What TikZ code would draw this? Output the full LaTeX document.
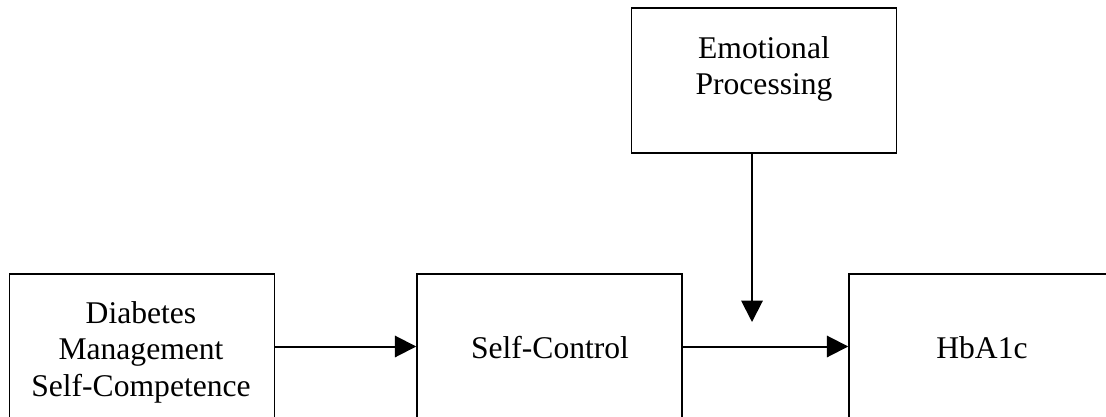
\documentclass[tikz,border=0pt]{standalone}
\usepackage{fontspec}
\setmainfont{Liberation Serif}
\usetikzlibrary{arrows.meta}

\begin{document}
\begin{tikzpicture}[x=0.75pt,y=-0.75pt,
    varbox/.style={draw, line width=1.1pt, minimum width=198.75pt, minimum height=108.75pt, inner sep=0pt},
    varlbl/.style={align=center, font=\fontsize{23.7pt}{27.4pt}\selectfont, inner sep=0pt},
    effect/.style={line width=1.5pt, -{Triangle[length=16pt,width=16pt]}}]
  \useasboundingbox (0,0) rectangle (1106,417);

  % boxes
  \node[varbox] (dmsc) at (141.75,346.5) {};
  \node[varbox] (sc) at (549.5,346.5) {};
  \node[varbox] (hba) at (981.5,346.5) {};
  \node[varbox] (ep) at (764,80.5) {};

  % labels
  \node[varlbl] (dmscT) at (141,352) {Diabetes\\Management\\Self-Competence};
  \node[varlbl] (scT) at (550,348) {Self-Control};
  \node[varlbl] (hbaT) at (982,348) {HbA1c};
  \node[varlbl] (epT) at (764,69) {Emotional\\Processing};

  % paths
  \coordinate (mod) at (752,322);
  \draw[effect] (dmsc.east) -- (sc.west);
  \draw[effect] (sc.east) -- (hba.west);
  \draw[effect] (ep.south -| mod) -- (mod);
\end{tikzpicture}
\end{document}
